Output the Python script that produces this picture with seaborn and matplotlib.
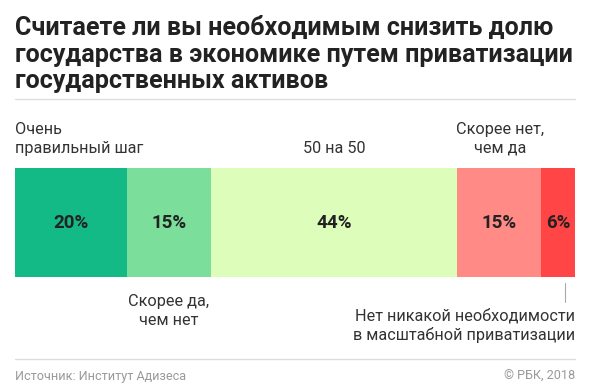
import numpy as np
import pandas as pd
import seaborn as sns
import matplotlib.pyplot as plt

# data
categories = ["Очень правильный шаг", "Скорее да, чем нет", "50 на 50",
              "Скорее нет, чем да", "Нет никакой необходимости в масштабной приватизации"]
shares = [20, 15, 44, 15, 6]
value_labels = ["20%", "15%", "44%", "15%", "6%"]
colors = ["#13ba86", "#7bde9a", "#ddfdbb", "#ff8a86", "#ff4545"]

W, H = 590, 390


def px(x, y):
    return x / W, 1 - y / H


sns.set_theme(style="white")
plt.rcParams['font.family'] = ['Roboto', 'DejaVu Sans']

fig = plt.figure(figsize=(5.9, 3.9), dpi=100)
ax = fig.add_axes([15 / W, (H - 277) / H, 560 / W, 109 / H])

df = pd.DataFrame({"cat": categories, "share": shares})
df["cum"] = df["share"].cumsum()

# stacked bar: draw cumulative totals from the largest down
for i in reversed(range(len(df))):
    sns.barplot(x=[df["cum"][i]], y=[0], orient="h", color=colors[i],
                width=1.0, saturation=1, linewidth=0, ax=ax)

starts = df["cum"] - df["share"]
for i in range(len(df)):
    ax.text(starts[i] + df["share"][i] / 2, 0, value_labels[i],
            ha="center", va="center", fontsize=13.5, fontweight="bold", color="#222222")

ax.set_xlim(0, 100)
ax.set_ylim(0.5, -0.5)
ax.axis("off")

# title (va=baseline refers to last line)
fig.text(*px(15, 88), "Считаете ли вы необходимым снизить долю\nгосударства в экономике путем приватизации\nгосударственных активов",
         fontsize=18.1, fontweight="bold", color="#222222", va="baseline", linespacing=1.13)
fig.add_artist(plt.Line2D([15 / W, 575 / W], [1 - 99 / H] * 2, color="#dddddd", lw=1))

lab = dict(fontsize=11.7, color="#333333", va="baseline", linespacing=1.3)
fig.text(*px(15, 153), "Очень\nправильный шаг", ha="left", **lab)
fig.text(*px(334, 153), "50 на 50", ha="center", **lab)
fig.text(*px(500, 153), "Скорее нет,\nчем да", ha="center", multialignment="center", **lab)
fig.text(*px(169, 325), "Скорее да,\nчем нет", ha="center", multialignment="center", **lab)
fig.text(*px(575, 340), "Нет никакой необходимости\nв масштабной приватизации", ha="right",
         multialignment="right", **lab)
fig.add_artist(plt.Line2D([565 / W] * 2, [1 - 283 / H, 1 - 302 / H], color="#aaaaaa", lw=0.8))

# footer
fig.add_artist(plt.Line2D([15 / W, 575 / W], [1 - 359 / H] * 2, color="#dddddd", lw=1))
fig.text(*px(15, 380), "Источник: Институт Адизеса", fontsize=9.1, color="#999999", va="baseline")
fig.text(*px(575, 380), "© РБК, 2018", fontsize=9.1, color="#999999", va="baseline", ha="right")

fig.savefig("out.png", dpi=100)
